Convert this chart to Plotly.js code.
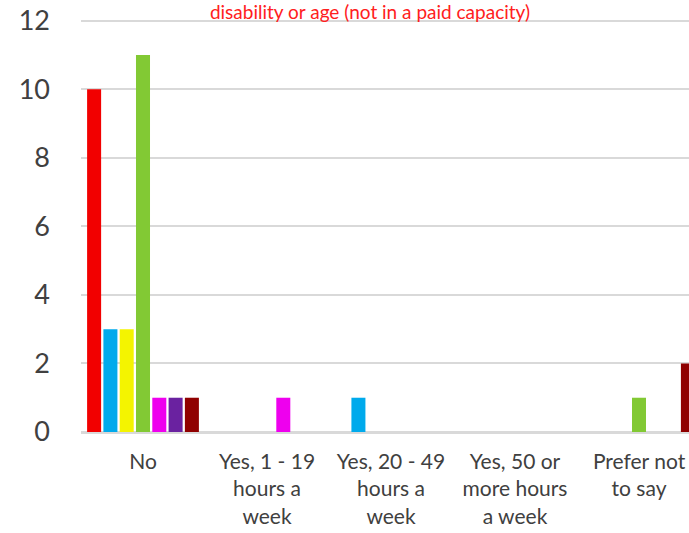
<!DOCTYPE html>
<html>
<head>
<meta charset="utf-8">
<script src="https://cdn.plot.ly/plotly-3.0.1.min.js"></script>
<style>
  html, body { margin: 0; padding: 0; background: #fff; overflow: hidden; }
  #chart { width: 689px; height: 533px; }
</style>
</head>
<body>
<div id="chart"></div>
<script>
// ---- data ----
const categories = [
  "No",
  "Yes, 1 - 19<br>hours a<br>week",
  "Yes, 20 - 49<br>hours a<br>week",
  "Yes, 50 or<br>more hours<br>a week",
  "Prefer not<br>to say"
];
const titleText = "disability or age (not in a paid capacity)";
const seriesNames = ["Series 1", "Series 2", "Series 3", "Series 4", "Series 5", "Series 6", "Series 7"];
const series1 = [10, 0, 0, 0, 0];
const series2 = [3, 0, 1, 0, 0];
const series3 = [3, 0, 0, 0, 0];
const series4 = [11, 0, 0, 0, 1];
const series5 = [1, 1, 0, 0, 0];
const series6 = [1, 0, 0, 0, 0];
const series7 = [1, 0, 0, 0, 2];
const yTicks = [0, 2, 4, 6, 8, 10, 12];

const seriesValues = [series1, series2, series3, series4, series5, series6, series7];
const colors = ["#f20000", "#00aaec", "#f4f400", "#82c934", "#ee00ee", "#6a22a0", "#900000"];

const traces = seriesValues.map((vals, i) => ({
  type: "bar",
  name: seriesNames[i],
  x: categories,
  y: vals,
  marker: { color: colors[i], line: { width: 0 } },
  hoverinfo: "x+y+name"
}));

const font = "Lato, 'Open Sans', sans-serif";

const layout = {
  width: 689,
  height: 533,
  margin: { l: 81, r: 0, t: 10, b: 101, pad: 0 },
  paper_bgcolor: "#ffffff",
  plot_bgcolor: "#ffffff",
  showlegend: false,
  barmode: "group",
  bargap: 0.08,
  bargroupgap: 0.14,
  title: {
    text: titleText,
    font: { family: font, size: 19, color: "#ff2020", weight: 400 },
    x: 370 / 689,
    xanchor: "center",
    xref: "container",
    y: 1 - 12 / 533,
    yanchor: "middle",
    yref: "container"
  },
  xaxis: {
    type: "category",
    range: [-0.5, 4.403],
    showgrid: false,
    zeroline: false,
    showline: false,
    ticks: "",
    tickfont: { family: font, size: 21, color: "#404040", weight: 400 },
    ticklabelstandoff: 15,
    fixedrange: true
  },
  yaxis: {
    range: [0, 12.315],
    tickvals: yTicks,
    ticktext: yTicks.map(String),
    showgrid: true,
    gridcolor: "#d9d9d9",
    gridwidth: 2,
    zeroline: true,
    zerolinecolor: "#d9d9d9",
    zerolinewidth: 3,
    showline: false,
    ticks: "",
    tickfont: { family: font, size: 27, color: "#404040", weight: 400 },
    ticklabelstandoff: 30,
    fixedrange: true
  }
};

Plotly.newPlot("chart", traces, layout, { displayModeBar: false, staticPlot: true });
</script>
</body>
</html>
